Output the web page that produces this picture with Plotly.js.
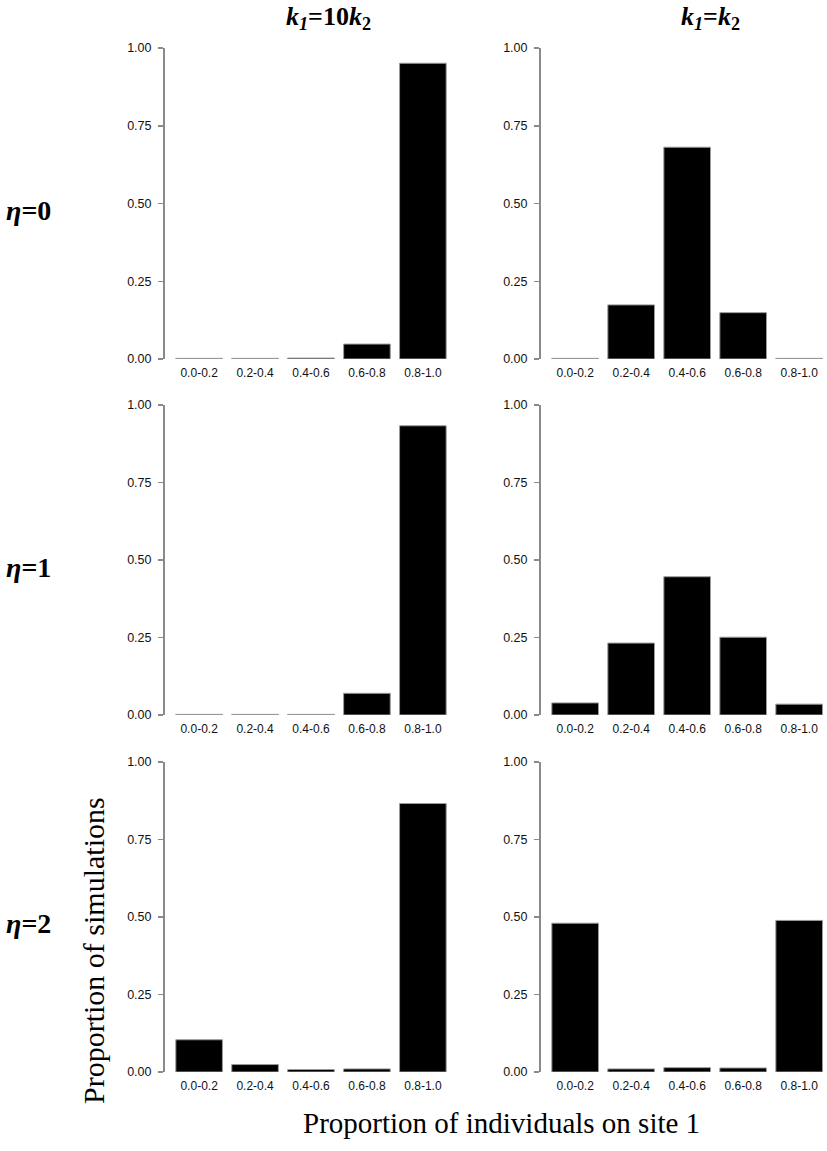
<!DOCTYPE html>
<html>
<head>
<meta charset="utf-8">
<script src="https://cdn.plot.ly/plotly-3.0.1.min.js"></script>
<style>html,body{margin:0;padding:0;background:#fff;}#chart{width:827px;height:1151px;}</style>
</head>
<body>
<div id="chart"></div>
<script>
// Data
const categories = ["0.0-0.2", "0.2-0.4", "0.4-0.6", "0.6-0.8", "0.8-1.0"];
const yTickVals = [0, 0.25, 0.5, 0.75, 1];
const yTickText = ["0.00", "0.25", "0.50", "0.75", "1.00"];
const eta0_k10 = [0.002, 0.002, 0.003, 0.048, 0.951];
const eta0_keq = [0.002, 0.174, 0.681, 0.149, 0.002];
const eta1_k10 = [0.002, 0.002, 0.002, 0.070, 0.933];
const eta1_keq = [0.039, 0.232, 0.446, 0.251, 0.035];
const eta2_k10 = [0.104, 0.024, 0.008, 0.010, 0.866];
const eta2_keq = [0.480, 0.010, 0.014, 0.013, 0.489];
const colTitles = ["<b><i>k</i><sub><i>1</i></sub>=10<i>k</i><sub>2</sub></b>", "<b><i>k</i><sub><i>1</i></sub>=<i>k</i><sub>2</sub></b>"];
const rowTitles = ["<b><i>η</i>=0</b>", "<b><i>η</i>=1</b>", "<b><i>η</i>=2</b>"];
const yTitle = "Proportion of simulations";
const xTitle = "Proportion of individuals on site 1";

const W = 827, H = 1151;
const series = [[eta0_k10, eta0_keq], [eta1_k10, eta1_keq], [eta2_k10, eta2_keq]];
const rowPx = [[48, 359], [405, 715], [762, 1072]];
const colPx = [[165, 457], [541, 827]];
const colRange = [[-0.61, 4.61], [-0.61, 4.497]];

const traces = [];
const layout = {
  width: W, height: H,
  margin: {l: 0, r: 0, t: 0, b: 0},
  paper_bgcolor: "#fff", plot_bgcolor: "#fff",
  showlegend: false,
  bargap: 0.1667,
  annotations: [],
  font: {family: "Liberation Sans, Arial, sans-serif", color: "#111"}
};

let n = 0;
for (let r = 0; r < 3; r++) {
  for (let c = 0; c < 2; c++) {
    n++;
    const xa = n === 1 ? "xaxis" : "xaxis" + n;
    const ya = n === 1 ? "yaxis" : "yaxis" + n;
    const xs = n === 1 ? "x" : "x" + n;
    const ys = n === 1 ? "y" : "y" + n;
    traces.push({
      type: "bar", x: categories, y: series[r][c], xaxis: xs, yaxis: ys,
      marker: {color: "#000", line: {color: "#9a9a9a", width: 1}},
      hoverinfo: "x+y"
    });
    layout[xa] = {
      domain: [colPx[c][0] / W, colPx[c][1] / W],
      anchor: ys, type: "category", range: colRange[c],
      showline: false, showgrid: false, zeroline: false,
      ticks: "outside", ticklen: 3, tickcolor: "rgba(0,0,0,0)",
      tickfont: {size: 12, color: "#111", family: "Liberation Sans, Arial, sans-serif"},
      fixedrange: true
    };
    layout[ya] = {
      domain: [1 - rowPx[r][1] / H, 1 - rowPx[r][0] / H],
      anchor: xs, range: [0, 1],
      tickvals: yTickVals, ticktext: yTickText,
      showline: true, linecolor: "#8a8a8a", linewidth: 2,
      ticks: "outside", ticklen: 5, tickwidth: 1.5, tickcolor: "#8a8a8a",
      ticklabelstandoff: 4,
      showgrid: false, zeroline: false,
      tickfont: {size: 12.5, color: "#111", family: "Liberation Sans, Arial, sans-serif"},
      fixedrange: true
    };
  }
}

const serif = "Liberation Serif, Times New Roman, serif";
const colCenters = [328, 710];
colTitles.forEach((t, i) => layout.annotations.push({
  text: t, xref: "paper", yref: "paper", x: colCenters[i] / W, y: 1 - 18 / H,
  xanchor: "center", yanchor: "middle", showarrow: false,
  font: {family: serif, size: 26, color: "#000"}
}));
const rowCenters = [210, 567, 923];
rowTitles.forEach((t, i) => layout.annotations.push({
  text: t, xref: "paper", yref: "paper", x: 28 / W, y: 1 - rowCenters[i] / H,
  xanchor: "center", yanchor: "middle", showarrow: false,
  font: {family: serif, size: 28, color: "#000"}
}));
layout.annotations.push({
  text: yTitle, xref: "paper", yref: "paper", x: 93 / W, y: 1 - 951 / H,
  xanchor: "center", yanchor: "middle", textangle: -90, showarrow: false,
  font: {family: serif, size: 30, color: "#000"}
});
layout.annotations.push({
  text: xTitle, xref: "paper", yref: "paper", x: 501 / W, y: 1 - 1123 / H,
  xanchor: "center", yanchor: "middle", showarrow: false,
  font: {family: serif, size: 29, color: "#000"}
});

Plotly.newPlot("chart", traces, layout, {displayModeBar: false, staticPlot: true});
</script>
</body>
</html>
